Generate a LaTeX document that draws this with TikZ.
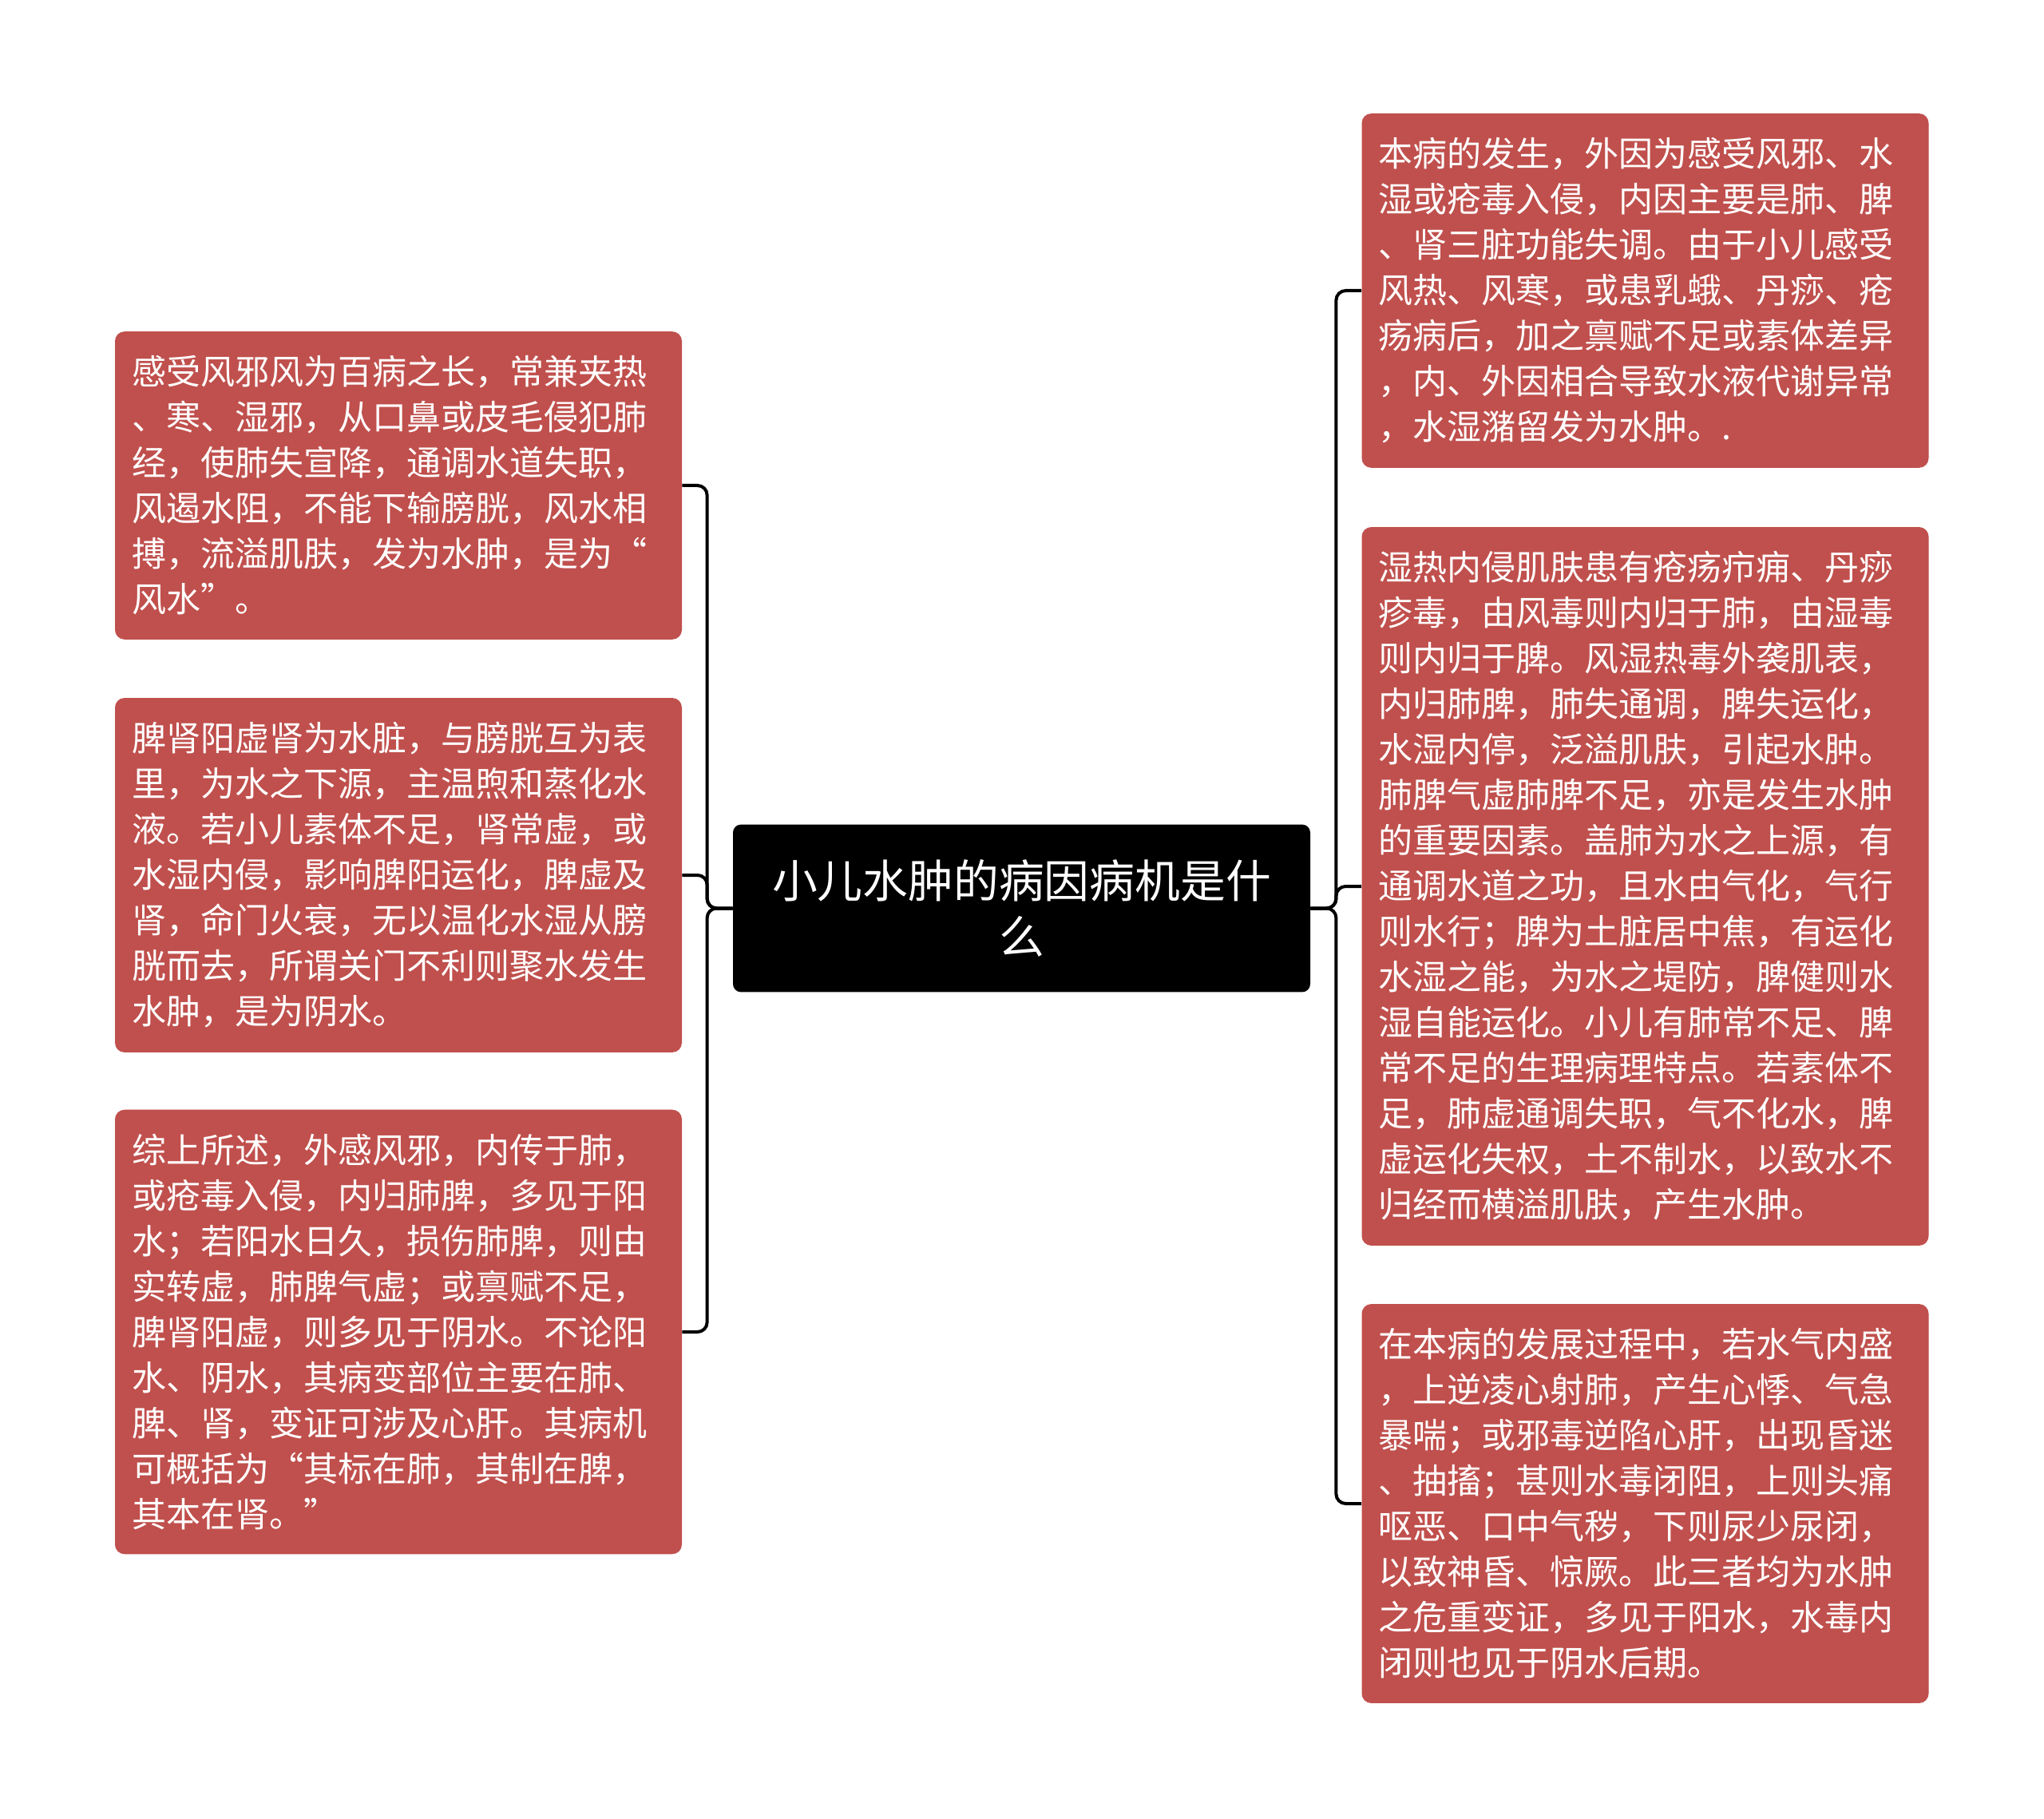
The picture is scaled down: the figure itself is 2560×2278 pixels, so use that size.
\documentclass[tikz,border=0pt]{standalone}
\usepackage{fontspec}
\setmainfont{Noto Sans CJK SC}
\definecolor{boxred}{HTML}{C0504D}
\tikzset{
  topic/.style={fill=black, text=white, rounded corners=5pt, align=center,
    text width=316pt, inner xsep=22.75pt, inner ysep=22pt,
    font=\fontsize{28.4pt}{35pt}\selectfont},
  cause/.style={fill=boxred, text=white, rounded corners=6pt, align=left,
    text width=334pt, inner xsep=10.5pt, inner ysep=15.2pt,
    font=\fontsize{21.5pt}{28.5pt}\selectfont},
  lbranch/.style={line width=2pt, rounded corners=6pt,
    to path={-- ++(-32,0) |- (\tikztotarget)}},
  rbranch/.style={line width=2pt, rounded corners=6pt,
    to path={-- ++(32,0) |- (\tikztotarget)}},
}
\begin{document}
\begin{tikzpicture}[x=0.5pt,y=-0.5pt]
\useasboundingbox (0,0) rectangle (2560,2278);
\node[topic] (C) at (1279.5,1137.5) {小儿水肿的病因病机是什\\么};
% left side
\node[cause] (L1) at (499,608) {感受风邪风为百病之长，常兼夹热\\、寒、湿邪，从口鼻或皮毛侵犯肺\\经，使肺失宣降，通调水道失职，\\风遏水阻，不能下输膀胱，风水相\\搏，流溢肌肤，发为水肿，是为“\\风水”。};
\node[cause] (L2) at (499,1096) {脾肾阳虚肾为水脏，与膀胱互为表\\里，为水之下源，主温煦和蒸化水\\液。若小儿素体不足，肾常虚，或\\水湿内侵，影响脾阳运化，脾虚及\\肾，命门火衰，无以温化水湿从膀\\胱而去，所谓关门不利则聚水发生\\水肿，是为阴水。};
\node[cause] (L3) at (499,1668) {综上所述，外感风邪，内传于肺，\\或疮毒入侵，内归肺脾，多见于阳\\水；若阳水日久，损伤肺脾，则由\\实转虚，肺脾气虚；或禀赋不足，\\脾肾阳虚，则多见于阴水。不论阳\\水、阴水，其病变部位主要在肺、\\脾、肾，变证可涉及心肝。其病机\\可概括为“其标在肺，其制在脾，\\其本在肾。”};
% right side
\node[cause] (R1) at (2060.5,364) {本病的发生，外因为感受风邪、水\\湿或疮毒入侵，内因主要是肺、脾\\、肾三脏功能失调。由于小儿感受\\风热、风寒，或患乳蛾、丹痧、疮\\疡病后，加之禀赋不足或素体差异\\，内、外因相合导致水液代谢异常\\，水湿潴留发为水肿。.};
\node[cause] (R2) at (2060.5,1110) {湿热内侵肌肤患有疮疡疖痈、丹痧\\疹毒，由风毒则内归于肺，由湿毒\\则内归于脾。风湿热毒外袭肌表，\\内归肺脾，肺失通调，脾失运化，\\水湿内停，泛溢肌肤，引起水肿。\\肺脾气虚肺脾不足，亦是发生水肿\\的重要因素。盖肺为水之上源，有\\通调水道之功，且水由气化，气行\\则水行；脾为土脏居中焦，有运化\\水湿之能，为水之堤防，脾健则水\\湿自能运化。小儿有肺常不足、脾\\常不足的生理病理特点。若素体不\\足，肺虚通调失职，气不化水，脾\\虚运化失权，土不制水，以致水不\\归经而横溢肌肤，产生水肿。};
\node[cause] (R3) at (2060.5,1883) {在本病的发展过程中，若水气内盛\\，上逆凌心射肺，产生心悸、气急\\暴喘；或邪毒逆陷心肝，出现昏迷\\、抽搐；甚则水毒闭阻，上则头痛\\呕恶、口中气秽，下则尿少尿闭，\\以致神昏、惊厥。此三者均为水肿\\之危重变证，多见于阳水，水毒内\\闭则也见于阴水后期。};
\path
  (C.west) edge[lbranch] (L1.east)
  (C.west) edge[lbranch] (L2.east)
  (C.west) edge[lbranch] (L3.east)
  (C.east) edge[rbranch] (R1.west)
  (C.east) edge[rbranch] (R2.west)
  (C.east) edge[rbranch] (R3.west)
;
\end{tikzpicture}
\end{document}
